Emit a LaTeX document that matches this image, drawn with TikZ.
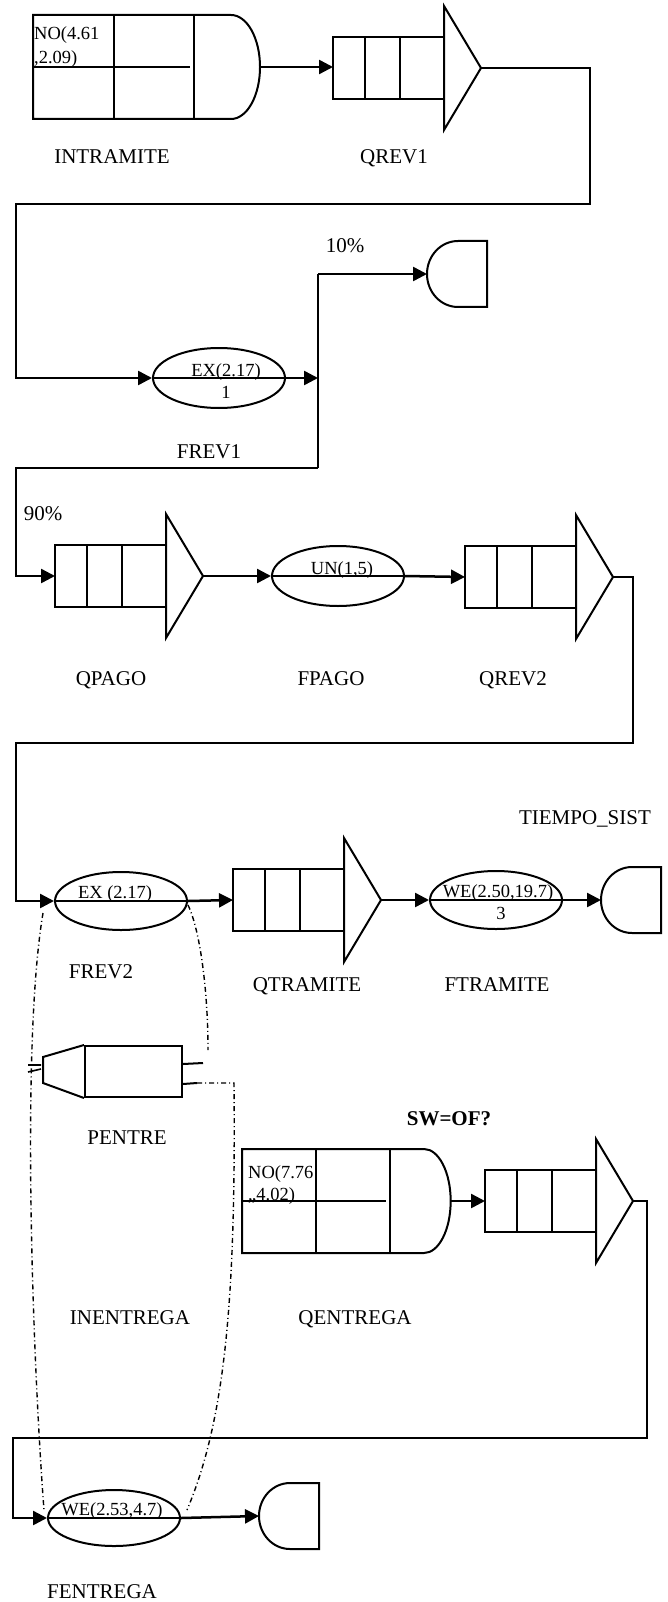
\documentclass[tikz,border=0pt]{standalone}
\usepackage{fontspec}
\setmainfont{Liberation Serif}
\usetikzlibrary{arrows.meta,shapes.geometric}
\tikzset{
  flowarr/.style={-{Triangle[length=14pt,width=14pt]}, line width=2.5pt},
  flowline/.style={line width=2pt},
  shapeline/.style={line width=2pt},
  linkline/.style={line width=1.4pt, dash pattern=on 5pt off 3pt on 1pt off 3pt},
  actnode/.style={ellipse, draw, line width=2pt, minimum width=132pt, inner sep=0pt},
  biglbl/.style={font=\fontsize{21}{25}\selectfont, inner sep=0pt, anchor=base},
  smalllbl/.style={font=\fontsize{18.5}{21}\selectfont, inner sep=0pt, anchor=base},
  gatew/.store in=\gatew, gatew=161,
  queue/.pic={
    \draw[shapeline] (0,-31) rectangle (111,31);
    \draw[shapeline] (32,-31) -- (32,31) (67,-31) -- (67,31);
    \draw[shapeline] (111,-62) -- (148,0) -- (111,62) -- cycle;
    \coordinate (-in) at (0,0);
    \coordinate (-out) at (148,0);
  },
  gate/.pic={
    \pgfmathsetmacro\gatem{1.23*\gatew}
    \pgfmathsetmacro\gater{0.18*\gatew}
    \draw[shapeline] (0,-52) -- (\gatem,-52) arc[start angle=-90, end angle=90, x radius=\gater, y radius=52] -- (0,52) -- cycle;
    \draw[shapeline] ({\gatew/2},-52) -- ({\gatew/2},52) (\gatew,-52) -- (\gatew,52);
    \draw[shapeline] (0,0) -- ({\gatew-4},0);
    \coordinate (-out) at ({\gatem+\gater},0);
  },
  sink/.pic={
    \draw[shapeline] (31,-33) -- (60,-33) -- (60,33) -- (31,33) arc[start angle=90, end angle=270, x radius=31, y radius=33] -- cycle;
    \coordinate (-in) at (0,0);
  },
}

\begin{document}
\begin{tikzpicture}[x=1pt, y=-1pt]
  \useasboundingbox (0,0) rectangle (668,1602);

  % row 1
  \pic (intr) at (33,67) {gate};
  \node[smalllbl, anchor=base west] (intr-p1) at (34,40) {NO(4.61};
  \node[smalllbl, anchor=base west] (intr-p2) at (34,64) {,2.09)};
  \pic (qrev1) at (333,68) {queue};
  \node[biglbl] (l-intr) at (112,164) {INTRAMITE};
  \node[biglbl] (l-qrev1) at (394,164) {QREV1};

  % row 2
  \node[actnode, minimum height=60pt] (frev1) at (219,378) {};
  \node[smalllbl] (frev1-p1) at (226,376) {EX(2.17)};
  \node[smalllbl] (frev1-p2) at (226,398) {1};
  \pic (exit1) at (427,274) {sink};
  \node[biglbl] (l-10) at (345,253) {10\%};
  \node[biglbl] (l-frev1) at (209,458) {FREV1};

  % row 3
  \pic (qpago) at (55,576) {queue};
  \node[actnode, minimum height=60pt] (fpago) at (338,576) {};
  \node[smalllbl] (fpago-p1) at (342,574) {UN(1,5)};
  \pic (qrev2) at (465,577) {queue};
  \node[biglbl] (l-90) at (43,520) {90\%};
  \node[biglbl] (l-qpago) at (111,685) {QPAGO};
  \node[biglbl] (l-fpago) at (331,685) {FPAGO};
  \node[biglbl] (l-qrev2) at (513,685) {QREV2};

  % row 4
  \node[actnode, minimum height=58pt] (frev2) at (121,901) {};
  \node[smalllbl] (frev2-p1) at (115,898) {EX (2.17)};
  \pic (qtram) at (233,900) {queue};
  \node[actnode, minimum height=58pt] (ftram) at (496,900) {};
  \node[smalllbl] (ftram-p1) at (498,897) {WE(2.50,19.7)};
  \node[smalllbl] (ftram-p2) at (501,919) {3};
  \pic (exit2) at (601,900) {sink};
  \node[biglbl] (l-tiempo) at (585,824) {TIEMPO\_SIST};
  \node[biglbl] (l-frev2) at (101,978) {FREV2};
  \node[biglbl] (l-qtram) at (307,991) {QTRAMITE};
  \node[biglbl] (l-ftram) at (497,991) {FTRAMITE};

  % entrega part
  \node[draw, shapeline, minimum width=97pt, minimum height=51pt, inner sep=0pt] (pentre) at (133.5,1071.5) {};
  \draw[shapeline] (pentre.north west) -- ++(-41,12) -- ++(0,26) -- (pentre.south west);
  \node[biglbl] (l-pentre) at (127,1144) {PENTRE};
  \node[biglbl, font=\fontsize{21}{25}\selectfont\bfseries] (l-sw) at (449,1125) {SW=OF?};
  \pic[gatew=148] (qentg) at (242,1201) {gate};
  \node[smalllbl, anchor=base west] (qentg-p1) at (248,1178) {NO(7.76};
  \node[smalllbl, anchor=base west] (qentg-p2) at (248,1200) {,,4.02)};
  \pic (qentq) at (485,1201) {queue};
  \node[biglbl] (l-inent) at (130,1324) {INENTREGA};
  \node[biglbl] (l-qent) at (355,1324) {QENTREGA};

  % last row
  \node[actnode, minimum height=56pt] (fent) at (114,1518) {};
  \node[smalllbl] (fent-p1) at (112,1515) {WE(2.53,4.7)};
  \pic (exit3) at (259,1516) {sink};
  \node[biglbl] (l-fent) at (102,1598) {FENTREGA};

  % turning points
  \coordinate (r1) at (590,204);
  \coordinate (l1) at (16,204);
  \coordinate (split1) at (318,378);
  \coordinate (split1-top) at (318,274);
  \coordinate (split1-bot) at (318,468);
  \coordinate (l2) at (16,468);
  \coordinate (r3) at (633,743);
  \coordinate (l3) at (16,743);
  \coordinate (r4) at (647,1438);
  \coordinate (l4) at (13,1438);

  % lines through the activities
  \draw[flowline] (frev1.west) -- (frev1.east);
  \draw[flowline] (fpago.west) -- (fpago.east);
  \draw[flowline] (frev2.west) -- (frev2.east);
  \draw[flowline] (ftram.west) -- (ftram.east);
  \draw[flowline] (fent.west) -- (fent.east);

  % flow
  \draw[flowarr] (intr-out) -- (intr-out -| qrev1-in);
  \draw[flowarr] (qrev1-out) -| (r1) -- (l1) |- (frev1.west);
  \draw[flowarr] (frev1.east) -- (split1);
  \draw[flowline] (split1-top) -- (split1-bot);
  \draw[flowarr] (split1-top) -- (exit1-in);
  \draw[flowarr] (split1-bot) -- (l2) |- (qpago-in);
  \draw[flowarr] (qpago-out) -- (fpago.west);
  \draw[flowarr] (fpago.east) -- (qrev2-in);
  \draw[flowarr] (qrev2-out) -| (r3) -- (l3) |- (frev2.west);
  \draw[flowarr] (frev2.east) -- (qtram-in);
  \draw[flowarr] (qtram-out) -- (ftram.west);
  \draw[flowarr] (ftram.east) -- (exit2-in);
  \draw[flowarr] (qentg-out) -- (qentq-in);
  \draw[flowarr] (qentq-out) -| (r4) -- (l4) |- (fent.west);
  \draw[flowarr] (fent.east) -- (exit3-in);

  % dash-dot links
  \coordinate (dd-a) at (43,913);
  \coordinate (dd-b) at (44,1510);
  \coordinate (dd-c) at (188,905);
  \coordinate (dd-d) at (208,1050);
  \coordinate (stub-up) at (203,1063);
  \coordinate (stub-lo) at (197,1083);
  \coordinate (dd-corner) at (234,1083);
  \coordinate (dd-e) at (187,1510);
  \draw[linkline] (dd-a) .. controls (20,1050) and (34,1380) .. (dd-b);
  \draw[linkline] (dd-c) .. controls (200,930) and (208,990) .. (dd-d);
  \draw[shapeline] ([yshift=7.5pt]pentre.east) -- (stub-up);
  \draw[shapeline] ([yshift=-12.5pt]pentre.east) -- (stub-lo);
  \draw[linkline] (stub-lo) -- (dd-corner) .. controls (236,1300) and (225,1420) .. (dd-e);
  \draw[line width=1.6pt] (28,1065) -- (41,1065) (28,1072) -- (41,1069);
\end{tikzpicture}
\end{document}
